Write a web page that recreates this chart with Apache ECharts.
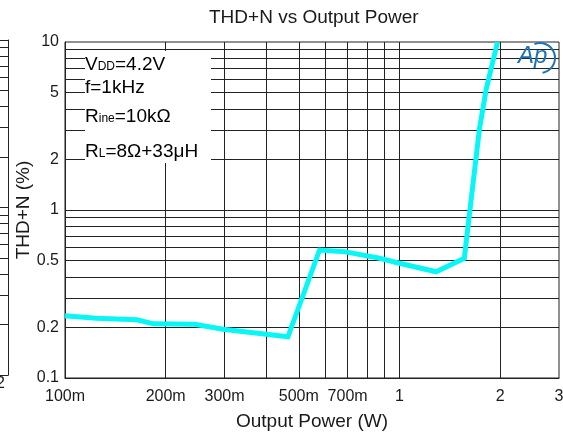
<!DOCTYPE html>
<html>
<head>
<meta charset="utf-8">
<script src="https://cdn.jsdelivr.net/npm/echarts@6/dist/echarts.min.js"></script>
<style>
  html, body { margin: 0; padding: 0; background: #fff; }
  #chart { width: 563px; height: 432px; }
</style>
</head>
<body>
<div id="chart"></div>
<script>
// THD+N (%) against output power (W), measured curve
const powerW = [0.1, 0.124, 0.164, 0.184, 0.244, 0.297, 0.4, 0.464, 0.577, 0.685, 0.872, 1.0, 1.287, 1.563, 1.629, 1.733, 1.815, 1.965];
const thdPct = [0.235, 0.227, 0.222, 0.21, 0.209, 0.195, 0.182, 0.176, 0.578, 0.565, 0.516, 0.482, 0.429, 0.516, 1.046, 2.99, 5.18, 10];

// labelled ticks
const xTickValues = [0.1, 0.2, 0.3, 0.5, 0.7, 1, 2, 3];
const yTickValues = [0.1, 0.2, 0.5, 1, 2, 5, 10];

// log grid lines (2..9 of each decade)
const xGridValues = [0.2, 0.3, 0.4, 0.5, 0.6, 0.7, 0.8, 0.9, 1, 2];
const yGridValues = [0.2, 0.3, 0.4, 0.5, 0.6, 0.7, 0.8, 0.9, 1, 2, 3, 4, 5, 6, 7, 8, 9];

const FONT = 'Liberation Sans, Arial, sans-serif';
const INK = '#1a1a1a';
const GRID_INK = '#222';

const chart = echarts.init(document.getElementById('chart'), null, { renderer: 'canvas' });

function powerLabel(v) {
  return v < 1 ? Math.round(v * 1000) + 'm' : String(v);
}

function gridMarkLine(values, key) {
  return values.map(v => ({ [key]: v }));
}

const sub = { fontSize: 12, lineHeight: 12, verticalAlign: 'bottom', color: INK, fontFamily: FONT, padding: [0, 0, 1, 0] };
const main = { fontSize: 19, lineHeight: 19, verticalAlign: 'bottom', color: INK, fontFamily: FONT };

chart.setOption({
  animation: false,
  backgroundColor: '#fff',
  title: {
    text: 'THD+N vs Output Power',
    left: 209,
    top: 8,
    padding: 0,
    textStyle: { fontFamily: FONT, fontSize: 19, fontWeight: 'normal', color: INK }
  },
  grid: [
    {
      left: 65, top: 42, right: 4, bottom: 54,
      containLabel: false, outerBoundsMode: 'none',
      show: true, borderColor: GRID_INK, borderWidth: 1, backgroundColor: 'transparent'
    },
    // right edge of the adjacent panel
    { left: 0, right: 555, top: 40, height: 335, containLabel: false, outerBoundsMode: 'none', show: false }
  ],
  xAxis: [
    {
      type: 'log', logBase: 10, min: 0.1, max: 3, gridIndex: 0,
      name: 'Output Power (W)', nameLocation: 'middle', nameGap: 34, nameMoveOverlap: false,
      nameTextStyle: { fontFamily: FONT, fontSize: 19, color: INK },
      axisLine: { show: true, lineStyle: { color: GRID_INK, width: 1 } },
      axisTick: { show: false },
      splitLine: { show: false },
      minorSplitLine: { show: false },
      axisLabel: {
        customValues: xTickValues,
        formatter: powerLabel,
        fontFamily: FONT, fontSize: 16, color: INK, margin: 11
      }
    },
    {
      type: 'value', min: 0, max: 1, gridIndex: 1,
      axisLine: { show: true, onZero: false, lineStyle: { color: GRID_INK, width: 1 } },
      axisTick: { show: false }, axisLabel: { show: false }, splitLine: { show: false }
    }
  ],
  yAxis: [
    {
      type: 'log', logBase: 10, min: 0.1, max: 10, gridIndex: 0,
      name: 'THD+N (%)', nameLocation: 'middle', nameGap: 32, nameRotate: 90, nameMoveOverlap: false,
      nameTextStyle: { fontFamily: FONT, fontSize: 19, color: INK },
      axisLine: { show: true, lineStyle: { color: GRID_INK, width: 1 } },
      axisTick: { show: false },
      splitLine: { show: false },
      minorSplitLine: { show: false },
      axisLabel: {
        customValues: yTickValues,
        formatter: v => String(v),
        fontFamily: FONT, fontSize: 16, color: INK, margin: 6
      }
    },
    {
      type: 'log', logBase: 10, min: 0.1, max: 10, gridIndex: 1, position: 'right',
      axisLine: { show: true, onZero: false, lineStyle: { color: GRID_INK, width: 1 } },
      axisTick: { show: false }, axisLabel: { show: false }, splitLine: { show: false }, minorSplitLine: { show: false }
    }
  ],
  series: [
    {
      // grid lines of the main panel
      type: 'line', xAxisIndex: 0, yAxisIndex: 0, z: 1,
      data: [[0.1, 0.1]], symbol: 'none', lineStyle: { width: 0 },
      silent: true,
      markLine: {
        z: 1, silent: true, animation: false,
        symbol: ['none', 'none'],
        label: { show: false },
        lineStyle: { color: GRID_INK, width: 1, type: 'solid' },
        emphasis: { disabled: true },
        data: gridMarkLine(xGridValues, 'xAxis').concat(gridMarkLine(yGridValues, 'yAxis'))
      }
    },
    {
      // grid lines of the adjacent panel
      type: 'line', xAxisIndex: 1, yAxisIndex: 1, z: 1,
      data: [[0, 0.1]], symbol: 'none', lineStyle: { width: 0 },
      silent: true,
      markLine: {
        z: 1, silent: true, animation: false,
        symbol: ['none', 'none'],
        label: { show: false },
        lineStyle: { color: GRID_INK, width: 1, type: 'solid' },
        emphasis: { disabled: true },
        data: gridMarkLine(yGridValues.concat([10]), 'yAxis')
      }
    },
    {
      name: 'THD+N',
      type: 'line', xAxisIndex: 0, yAxisIndex: 0, z: 5,
      data: powerW.map((p, i) => [p, thdPct[i]]),
      symbol: 'none',
      smooth: false,
      lineStyle: { color: '#08f6f6', width: 5, join: 'miter' }
    }
  ],
  graphic: [
    // conditions box
    { type: 'rect', z: 10, shape: { x: 85, y: 51, width: 126, height: 112 }, style: { fill: '#fff' } },
    { type: 'text', z: 11, x: 85, y: 55, style: { text: '{a|V}{s|DD}{a|=4.2V}', rich: { a: main, s: sub } } },
    { type: 'text', z: 11, x: 85, y: 78, style: { text: '{a|f=1kHz}', rich: { a: main } } },
    { type: 'text', z: 11, x: 85, y: 107, style: { text: '{a|R}{s|ine}{a|=10kΩ}', rich: { a: main, s: sub } } },
    { type: 'text', z: 11, x: 85, y: 142, style: { text: '{a|R}{s|L}{a|=8Ω+33μH}', rich: { a: main, s: sub } } },
    // Ap logo
    { type: 'text', z: 11, x: 518, y: 44, style: { text: 'Ap', fontFamily: FONT, fontSize: 24, fontStyle: 'italic', fill: '#1d72b8' } },
    { type: 'arc', z: 11, shape: { cx: 540, cy: 58, r: 15, startAngle: -1.95, endAngle: 1.4, clockwise: true }, style: { stroke: '#1d72b8', lineWidth: 2, fill: null } },
    // tick label of the adjacent panel
    { type: 'text', z: 11, x: -4, y: 376, style: { text: '2', fontFamily: FONT, fontSize: 16, fill: INK } }
  ]
});
</script>
</body>
</html>
